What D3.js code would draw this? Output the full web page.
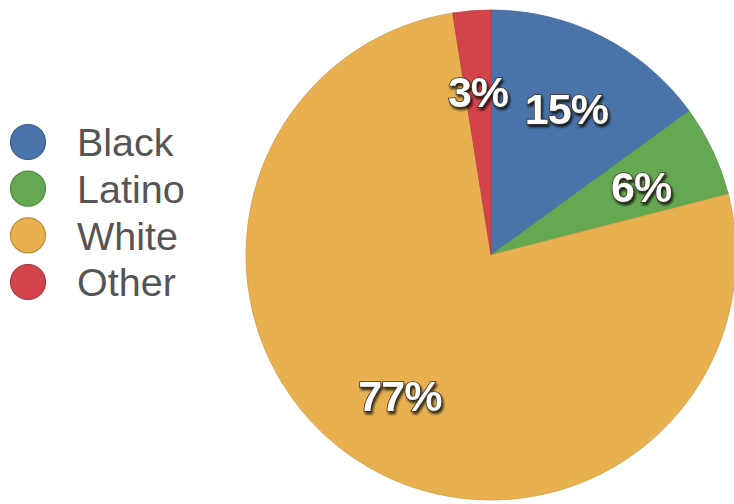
<!DOCTYPE html>
<html lang="en">
<head>
  <meta charset="utf-8">
  <title>Pie</title>
  <script src="https://cdn.jsdelivr.net/npm/d3@7"></script>
  <style>
    body { margin: 0; background: #fff; }
    .legend text { font-family: "Liberation Sans", Arial, sans-serif; font-size: 39.5px; fill: #555; }
    .label { font-family: "Liberation Sans", Arial, sans-serif; font-weight: bold; font-size: 43px;
             fill: #fff; stroke: #3a3226; stroke-width: 1.6px; paint-order: stroke; letter-spacing: -1px; }
  </style>
</head>
<body>
<svg width="734" height="504"></svg>
<script>
  // slices in clockwise order from 12 o'clock
  var groups = ["Black", "Latino", "White", "Other"];
  var shares = [15, 6, 76.5, 2.5];
  var labels = ["15%", "6%", "77%", "3%"];
  var colors = ["#4a73aa", "#65a852", "#e8b04f", "#d3434a"];
  var legendOrder = ["Black", "Latino", "White", "Other"];

  var svg = d3.select("svg");
  var cx = 491, cy = 255, radius = 245;

  var defs = svg.append("defs");
  var f = defs.append("filter").attr("id", "shadow").attr("x", "-20%").attr("y", "-20%")
      .attr("width", "140%").attr("height", "140%");
  f.append("feDropShadow").attr("dx", 1.5).attr("dy", 2.5).attr("stdDeviation", 1)
      .attr("flood-color", "#000").attr("flood-opacity", 0.75);

  var color = d3.scaleOrdinal().domain(groups).range(colors);

  var pie = d3.pie().sort(null).value(function(d) { return d.value; });
  var arc = d3.arc().innerRadius(0).outerRadius(radius);
  var labelArc = d3.arc().innerRadius(166).outerRadius(166);

  var data = groups.map(function(g, i) { return {name: g, value: shares[i], label: labels[i]}; });

  var g = svg.append("g").attr("transform", "translate(" + cx + "," + cy + ")");

  g.selectAll("path")
    .data(pie(data))
    .enter().append("path")
      .attr("d", arc)
      .attr("fill", function(d) { return color(d.data.name); })
      .attr("stroke", function(d) { return d3.color(color(d.data.name)).darker(0.3); })
      .attr("stroke-width", 0.8);

  g.selectAll(".label")
    .data(pie(data))
    .enter().append("text")
      .attr("class", "label")
      .attr("filter", "url(#shadow)")
      .attr("transform", function(d) { return "translate(" + labelArc.centroid(d) + ")"; })
      .attr("text-anchor", "middle")
      .attr("dy", "0.4em")
      .text(function(d) { return d.data.label; });

  // legend
  var y = d3.scalePoint().domain(legendOrder).range([142, 282]);
  var legend = svg.append("g").attr("class", "legend");
  var item = legend.selectAll("g")
    .data(legendOrder)
    .enter().append("g")
      .attr("transform", function(d) { return "translate(0," + y(d) + ")"; });

  item.append("circle")
      .attr("cx", 28)
      .attr("r", 17.5)
      .attr("fill", function(d) { return color(d); })
      .attr("stroke", function(d) { return d3.color(color(d)).darker(0.6); })
      .attr("stroke-width", 1.2);

  item.append("text")
      .attr("x", 77)
      .attr("dy", "0.36em")
      .text(function(d) { return d; });
</script>
</body>
</html>
